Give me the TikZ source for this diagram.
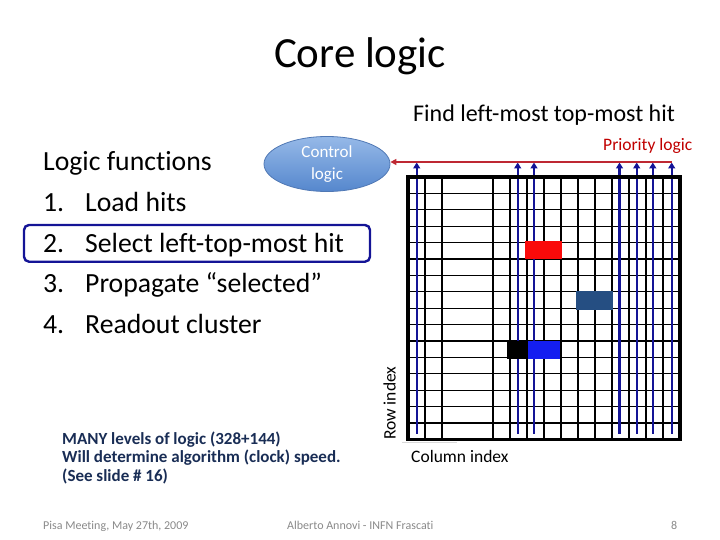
\documentclass[tikz,border=0pt]{standalone}
\usepackage{fontspec}
\setmainfont{Carlito}[Ligatures={NoCommon,NoContextual}]
\usetikzlibrary{arrows.meta,shapes.geometric}
\definecolor{navy}{RGB}{20,20,150}
\definecolor{prred}{RGB}{192,0,0}
\definecolor{redline}{RGB}{190,40,50}
\definecolor{hitred}{RGB}{250,10,10}
\definecolor{hitsteel}{RGB}{37,78,130}
\definecolor{hitblue}{RGB}{20,30,240}
\definecolor{darktext}{RGB}{25,45,85}
\definecolor{footgray}{RGB}{137,137,137}
\definecolor{elltop}{RGB}{150,185,232}
\definecolor{ellbot}{RGB}{85,135,205}
\definecolor{ellborder}{RGB}{80,120,180}
\tikzset{
  txt/.style={anchor=base west, inner sep=0pt},
  bodytxt/.style={txt, font=\fontsize{27.7}{33}\selectfont},
  smalltxt/.style={txt, font=\fontsize{17.5}{21}\selectfont},
  boldnote/.style={txt, font=\bfseries\fontsize{17}{19}\selectfont, text=darktext},
  foot/.style={txt, font=\fontsize{12}{14}\selectfont, text=footgray},
  gridline/.style={black, line width=1.1pt},
  bluearrow/.style={navy, line width=2.4pt, -{Triangle[length=6pt,width=7pt]}},
  redarrow/.style={redline, line width=2pt, -{Triangle[length=6pt,width=6pt]}},
  selbox/.style={navy, line width=2.4pt, rounded corners=5pt},
}
\begin{document}
\begin{tikzpicture}[x=1pt,y=-1pt]
\useasboundingbox (0,0) rectangle (720,540);

% title
\node[anchor=base, inner sep=0pt, font=\fontsize{43}{50}\selectfont] (title) at (360,67.5) {Core logic};
\node[txt, font=\fontsize{24}{29}\selectfont] (find) at (413,121.5) {Find left-most top-most hit};

% left list
\node[bodytxt] (lf) at (43,171) {Logic functions};
\node[bodytxt] (n1) at (43,211.5) {1.};
\node[bodytxt] (t1) at (85,211.5) {Load hits};
\node[bodytxt] (n2) at (43,252) {2.};
\node[bodytxt] (t2) at (85,252) {Select left-top-most hit};
\node[bodytxt] (n3) at (43,292.5) {3.};
\node[bodytxt] (t3) at (85,292.5) {Propagate “selected”};
\node[bodytxt] (n4) at (43,333) {4.};
\node[bodytxt] (t4) at (85,333) {Readout cluster};
\draw[selbox] (24,225) rectangle (370,261.7);

% control logic ellipse
\node[ellipse, minimum width=126pt, minimum height=55pt, inner sep=0pt,
      top color=elltop, bottom color=ellbot, draw=ellborder, line width=0.8pt,
      text=white, align=center, font=\fontsize{17}{22}\selectfont] (ctrl) at (327,164) {Control\\logic};

% grid
\foreach \c in {1,2,5,6,7,8,9,10,11,12,13,14,15} \draw[gridline] ({408+17*\c},177) -- ({408+17*\c},439.4);
\foreach \r in {1,2,3,4,5,6,7,8,9,10,11,12,13,14,15} \draw[gridline] (408,{177+16.4*\r}) -- (680,{177+16.4*\r});

% blue column arrows
\foreach \x [count=\i] in {416.7,517.7,534,619.5,636.7,652.8,671.7} {
  \coordinate (b\i) at (\x,433.5);
  \coordinate (t\i) at (\x,162.5);
  \draw[bluearrow] (b\i) -- (t\i);
}

% hits
\fill[hitred] (525,241) rectangle (561.7,259.3);
\fill[hitsteel] (576,291.3) rectangle (612.7,309.7);
\fill[black] (507,340.7) rectangle (527.7,359.3);
\fill[hitblue] (527.7,340.7) rectangle (560.3,359.3);

% border
\draw[black, line width=3.2pt] (408,177) rectangle (680,439.4);
\draw[black!15, line width=0.8pt] (402,442.8) -- (457,442.8);

% priority logic
\coordinate (pr) at (672,162);
\draw[redarrow] (pr) -- (pr -| ctrl.east);
\node[smalltxt, text=prred] (prl) at (603,151) {Priority logic};

\node[smalltxt, rotate=90] (row) at (395.5,440) {Row index};
\node[smalltxt] (col) at (411,462.5) {Column index};

% note
\node[boldnote] (m1) at (62,444) {MANY levels of logic (328+144)};
\node[boldnote] (m2) at (62,462.7) {Will determine algorithm (clock) speed.};
\node[boldnote] (m3) at (62,481.4) {(See slide \# 16)};

% footer
\node[foot] (f1) at (43,529) {Pisa Meeting, May 27th, 2009};
\node[foot] (f2) at (287,529) {Alberto Annovi - INFN Frascati};
\node[foot] (f3) at (671,529) {8};
\end{tikzpicture}
\end{document}
